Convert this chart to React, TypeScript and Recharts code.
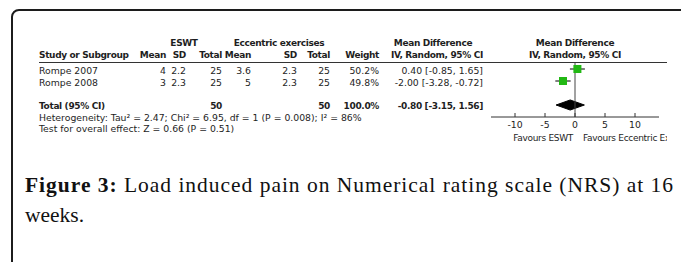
import React from "react";
import { ComposedChart, Scatter, ErrorBar, Area, XAxis, YAxis, ReferenceLine } from "recharts";

// study rows
const studies = ["Rompe 2007", "Rompe 2008"];
const eswtMean = [4, 3];
const eswtSD = [2.2, 2.3];
const eswtTotal = [25, 25];
const eccMean = [3.6, 5];
const eccSD = [2.3, 2.3];
const eccTotal = [25, 25];
const weights = [50.2, 49.8];
const md = [0.4, -2.0];
const mdLow = [-0.85, -3.28];
const mdHigh = [1.65, -0.72];

// pooled estimate: [low, estimate, high]
const pooled = [-3.15, -0.8, 1.56];
const pooledTotals = [50, 50];
const pooledWeight = 100.0;

const xTicks = [-10, -5, 0, 5, 10];
const heterogeneity = "Heterogeneity: Tau\u00b2 = 2.47; Chi\u00b2 = 6.95, df = 1 (P = 0.008); I\u00b2 = 86%";
const overallEffect = "Test for overall effect: Z = 0.66 (P = 0.51)";
const favours = ["Favours ESWT", "Favours Eccentric Exercises"];

const W = 681;
const H = 262;
const TOP = 57;
const ROW = 12;
const TOTAL_ROW = 4;
const DIAMOND_HALF = 0.42;
const FONT = "'DejaVu Sans', sans-serif";
const INK = "#1e1e1e";
const GREEN = "#22b814";

const fmt = (v: number) => v.toFixed(2);
const ci = (m: number, l: number, h: number) => `${fmt(m)} [${fmt(l)}, ${fmt(h)}]`;

const studyPoints = studies.map((s, i) => ({
  name: s,
  x: md[i],
  y: i + 1,
  err: [md[i] - mdLow[i], mdHigh[i] - md[i]],
  w: weights[i],
}));

const diamond = [
  { x: pooled[0], band: [TOTAL_ROW, TOTAL_ROW] },
  { x: pooled[1], band: [TOTAL_ROW - DIAMOND_HALF, TOTAL_ROW + DIAMOND_HALF] },
  { x: pooled[2], band: [TOTAL_ROW, TOTAL_ROW] },
];

const Square = (props: any) => {
  const { cx, cy, payload } = props;
  const s = 8 * Math.sqrt(payload.w / 50);
  return <rect x={cx - s / 2} y={cy - s / 2} width={s} height={s} fill={GREEN} />;
};

const AxisTick = (props: any) => {
  const { x, y, payload } = props;
  return (
    <g>
      <line x1={x} x2={x} y1={y - 4} y2={y} stroke="#333" />
      <text x={x} y={y + 11} textAnchor="middle" fontSize={9.3} fontFamily={FONT} fill={INK}>
        {payload.value}
      </text>
    </g>
  );
};

const rowBase = (r: number) => TOP + ROW * r + 4.5;

export default function App() {
  const cols = [
    { r: 166, vals: eswtMean, head: "Mean" },
    { r: 186, vals: eswtSD, head: "SD" },
    { r: 222, vals: eswtTotal, head: "Total" },
    { r: 251, vals: eccMean, head: "Mean" },
    { r: 297, vals: eccSD, head: "SD" },
    { r: 330, vals: eccTotal, head: "Total" },
  ];
  const bold = { fontWeight: "bold" as const, fontSize: 9, letterSpacing: -0.35 };
  return (
    <div style={{ position: "absolute", left: 0, top: 0, width: W, height: H, overflow: "hidden", background: "#fff" }}>
      <div
        style={{
          position: "absolute",
          left: 11,
          top: 9,
          width: 800,
          height: 400,
          border: "2px solid #1c1c1c",
          borderRadius: 8,
        }}
      />
      <div style={{ position: "absolute", left: 0, top: 0 }}>
        <ComposedChart width={W} height={H} margin={{ top: TOP, right: 22, bottom: 115, left: 491 }}>
          <XAxis
            type="number"
            dataKey="x"
            domain={[-14, 14]}
            ticks={xTicks}
            tickLine={false}
            tickSize={0}
            tickMargin={0}
            axisLine={{ stroke: "#333" }}
            tick={<AxisTick />}
            allowDataOverflow
          />
          <YAxis type="number" dataKey="y" domain={[0, 5]} reversed hide width={0} />
          <ReferenceLine
            segment={[
              { x: 0, y: 0.45 },
              { x: 0, y: 5 },
            ]}
            stroke="#444"
          />
          <Scatter data={studyPoints} dataKey="y" shape={<Square />} isAnimationActive={false}>
            <ErrorBar dataKey="err" direction="x" width={0} stroke="#000" strokeWidth={1} />
          </Scatter>
          <Area
            data={diamond}
            dataKey="band"
            type="linear"
            stroke="#000"
            fill="#000"
            fillOpacity={1}
            dot={false}
            activeDot={false}
            isAnimationActive={false}
          />
        </ComposedChart>
      </div>
      <svg width={W} height={H} style={{ position: "absolute", left: 0, top: 0, pointerEvents: "none" }}>
        <defs>
          <clipPath id="favClip">
            <rect x={0} y={0} width={667} height={H} />
          </clipPath>
        </defs>
        <g fontFamily={FONT} fontSize={9.3} fill={INK}>
          <g {...bold}>
            <text x={184} y={46} textAnchor="middle">ESWT</text>
            <text x={279} y={46} textAnchor="middle">Eccentric exercises</text>
            <text x={433} y={46} textAnchor="middle">Mean Difference</text>
            <text x={575} y={46} textAnchor="middle">Mean Difference</text>
            <text x={39} y={58}>Study or Subgroup</text>
            {cols.map((c, i) => (
              <text key={i} x={c.r} y={58} textAnchor="end">{c.head}</text>
            ))}
            <text x={379} y={58} textAnchor="end">Weight</text>
            <text x={483} y={58} textAnchor="end">IV, Random, 95% CI</text>
            <text x={575} y={58} textAnchor="middle">IV, Random, 95% CI</text>
          </g>
          <line x1={39} x2={667} y1={62.5} y2={62.5} stroke="#333" />
          {studies.map((s, i) => (
            <g key={s}>
              <text x={39} y={rowBase(i + 1)}>{s}</text>
              {cols.map((c, j) => (
                <text key={j} x={c.r} y={rowBase(i + 1)} textAnchor="end">{c.vals[i]}</text>
              ))}
              <text x={379} y={rowBase(i + 1)} textAnchor="end">{weights[i].toFixed(1)}%</text>
              <text x={483} y={rowBase(i + 1)} textAnchor="end">{ci(md[i], mdLow[i], mdHigh[i])}</text>
            </g>
          ))}
          <g {...bold}>
            <text x={39} y={109}>Total (95% CI)</text>
            <text x={222} y={109} textAnchor="end">{pooledTotals[0]}</text>
            <text x={330} y={109} textAnchor="end">{pooledTotals[1]}</text>
            <text x={379} y={109} textAnchor="end">{pooledWeight.toFixed(1)}%</text>
            <text x={483} y={109} textAnchor="end">{ci(pooled[1], pooled[0], pooled[2])}</text>
          </g>
          <text x={39} y={120.5}>{heterogeneity}</text>
          <text x={39} y={132}>{overallEffect}</text>
          <g clipPath="url(#favClip)" fontSize={9} letterSpacing={-0.3}>
            <text x={573} y={141} textAnchor="end">{favours[0]}</text>
            <text x={583} y={141}>{favours[1]}</text>
          </g>
        </g>
        <g fontFamily="'Liberation Serif', 'Times New Roman', serif" fontSize={21.5} fill="#111">
          <text x={25} y={192} textLength={648} lengthAdjust="spacing">
            <tspan fontWeight="bold">Figure 3:</tspan> Load induced pain on Numerical rating scale (NRS) at 16
          </text>
          <text x={25} y={222}>weeks.</text>
        </g>
      </svg>
    </div>
  );
}
